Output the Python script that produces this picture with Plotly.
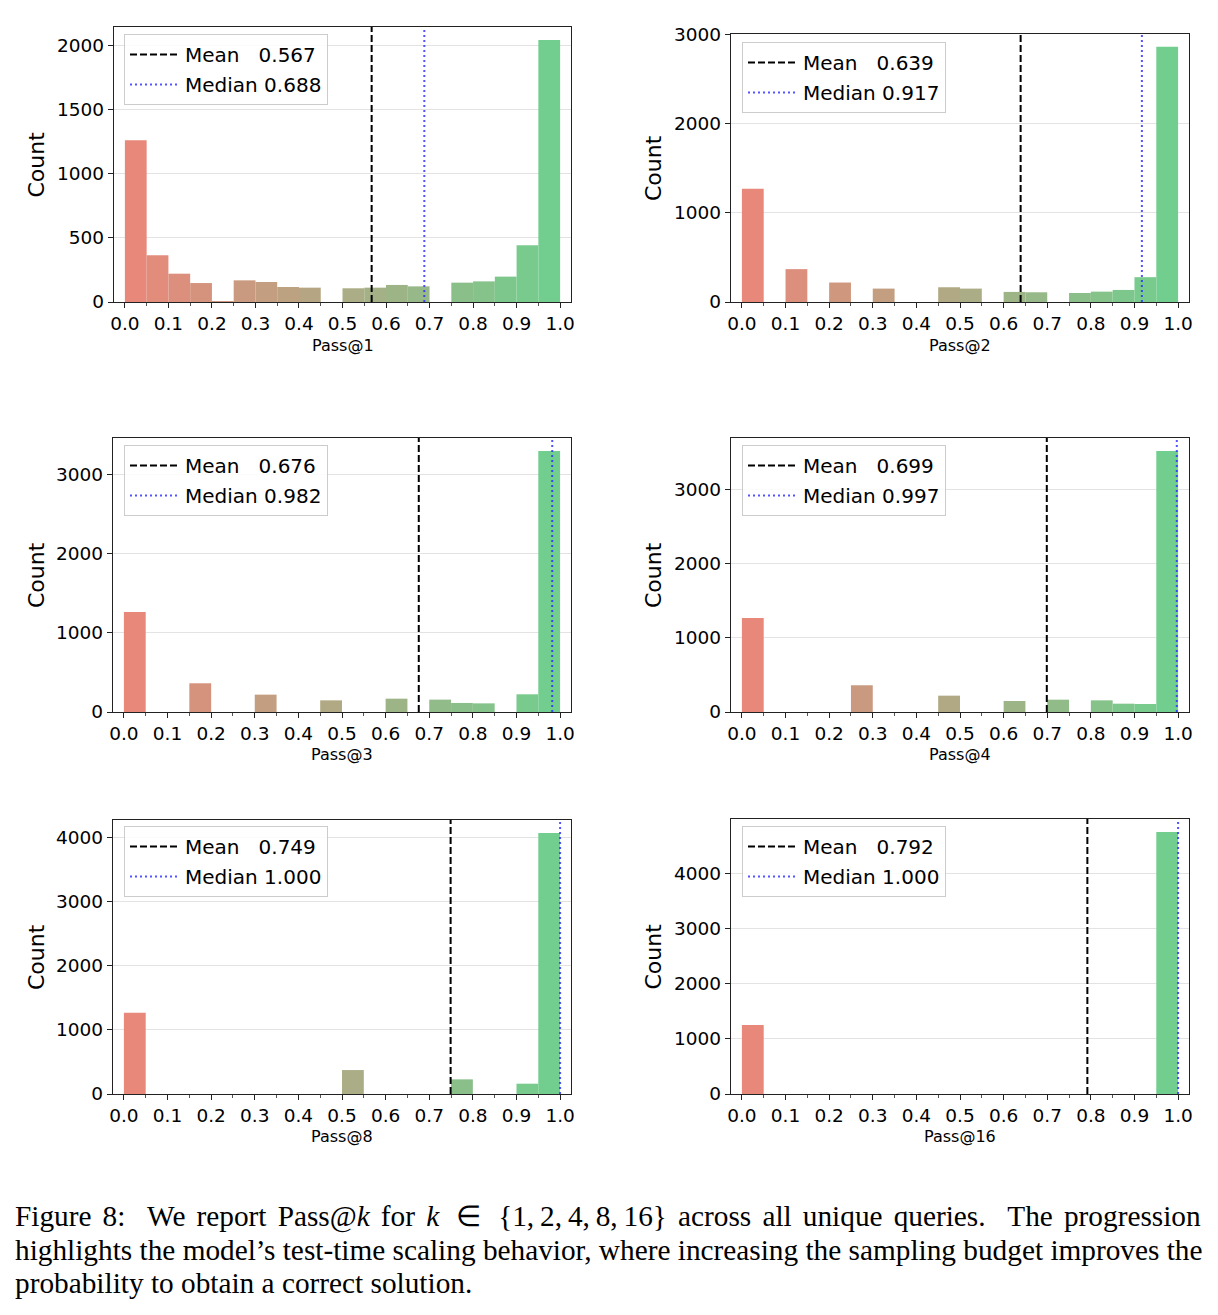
import plotly.graph_objects as go

# ---------------- data ----------------
bin_edges = [0.00, 0.05, 0.10, 0.15, 0.20, 0.25, 0.30, 0.35, 0.40, 0.45, 0.50,
             0.55, 0.60, 0.65, 0.70, 0.75, 0.80, 0.85, 0.90, 0.95, 1.00]

panel_names = ["Pass@1", "Pass@2", "Pass@3", "Pass@4", "Pass@8", "Pass@16"]

pass1 = [1263, 365, 221, 148, 3, 169, 156, 117, 112, 0, 107, 112, 133, 122, 0, 151, 161, 198, 443, 2044]
pass2 = [1268, 0, 368, 0, 218, 0, 150, 0, 0, 165, 150, 0, 113, 109, 0, 101, 116, 135, 278, 2858]
pass3 = [1262, 0, 0, 362, 0, 0, 219, 0, 0, 147, 0, 0, 168, 0, 156, 114, 109, 0, 223, 3290]
pass4 = [1264, 0, 0, 0, 0, 360, 0, 0, 0, 220, 0, 0, 148, 0, 166, 0, 157, 112, 108, 3513]
pass8 = [1268, 0, 0, 0, 0, 0, 0, 0, 0, 0, 374, 0, 0, 0, 0, 229, 0, 0, 161, 4075]
pass16 = [1251, 0, 0, 0, 0, 0, 0, 0, 0, 0, 0, 0, 0, 0, 0, 0, 0, 0, 0, 4749]

means = [0.567, 0.639, 0.676, 0.699, 0.749, 0.792]
medians = [0.688, 0.917, 0.982, 0.997, 1.000, 1.000]
y_dticks = [500, 1000, 1000, 1000, 1000, 1000]

x_tick_vals = [0.0, 0.1, 0.2, 0.3, 0.4, 0.5, 0.6, 0.7, 0.8, 0.9, 1.0]
x_tick_text = ["0.0", "0.1", "0.2", "0.3", "0.4", "0.5", "0.6", "0.7", "0.8", "0.9", "1.0"]

caption_lines = [
    "Figure 8:  We report Pass@<i>k</i> for <i>k</i>\u2009 \u2208 \u2009{1,\u20092,\u20094,\u20098,\u200916} across all unique queries.  The progression",
    "highlights the model\u2019s test-time scaling behavior, where increasing the sampling budget improves the",
    "probability to obtain a correct solution.",
]
caption_word_spacing = [3.8, 0.0, 0.0]

all_counts = [pass1, pass2, pass3, pass4, pass8, pass16]

# ---------------- layout geometry (pixels) ----------------
W, H = 1218, 1315
# (left, right, top, bottom) of each axes box in pixels
boxes = [
    (114, 571, 27, 302),
    (731, 1189, 34, 302),
    (113, 571, 438, 712),
    (731, 1189, 438, 712),
    (113, 571, 820, 1094),
    (731, 1189, 819, 1094),
]
legend_pos = [(124, 34), (742, 42), (124, 445), (742, 445), (124, 826), (742, 826)]
count_x = [36, 653, 36, 653, 36, 653]
xtitle_y = [345, 345, 754, 754, 1136, 1136]


def px(x):
    return x / W


def py(y):
    return 1 - y / H


red = (232, 136, 122)
green = (114, 206, 142)
n_bins = len(bin_edges) - 1
centers = [(bin_edges[i] + bin_edges[i + 1]) / 2 for i in range(n_bins)]
widths = [bin_edges[i + 1] - bin_edges[i] for i in range(n_bins)]
colors = []
for i in range(n_bins):
    t = i / (n_bins - 1)
    c = tuple(round(red[k] + (green[k] - red[k]) * t) for k in range(3))
    colors.append("rgb(%d,%d,%d)" % c)

fig = go.Figure()
layout = dict(
    width=W, height=H,
    margin=dict(l=0, r=0, t=0, b=0, autoexpand=False),
    paper_bgcolor="white", plot_bgcolor="white",
    showlegend=True,
    font=dict(family="DejaVu Sans", color="black"),
)
annotations = []

for i, counts in enumerate(all_counts):
    n = i + 1
    xa = "x" if n == 1 else "x%d" % n
    ya = "y" if n == 1 else "y%d" % n
    lg = "legend" if n == 1 else "legend%d" % n
    ytop = max(counts) * 1.05

    fig.add_trace(go.Bar(
        x=centers, y=counts, width=widths,
        marker=dict(color=colors, line=dict(width=0)),
        xaxis=xa, yaxis=ya, showlegend=False, hoverinfo="skip",
    ))
    fig.add_trace(go.Scatter(
        x=[means[i], means[i]], y=[0, ytop], mode="lines",
        line=dict(color="black", width=2, dash="7px,3px"),
        name="Mean\u00a0\u00a0\u00a0%.3f" % means[i],
        legendgroup="mean%d" % n,
        xaxis=xa, yaxis=ya, legend=lg,
    ))
    fig.add_trace(go.Scatter(
        x=[medians[i], medians[i]], y=[0, ytop], mode="lines",
        line=dict(color="rgba(40,40,255,0.8)", width=2, dash="2px,3px"),
        name="Median %.3f" % medians[i],
        legendgroup="median%d" % n,
        xaxis=xa, yaxis=ya, legend=lg,
    ))

    l, r, t, b = boxes[i]
    xkey = "xaxis" if n == 1 else "xaxis%d" % n
    ykey = "yaxis" if n == 1 else "yaxis%d" % n
    layout[xkey] = dict(
        domain=[px(l), px(r)], anchor=ya, range=[-0.025, 1.025], automargin=False,
        tickmode="array", tickvals=x_tick_vals, ticktext=x_tick_text,
        ticks="outside", ticklen=5, tickwidth=1.2, tickcolor="#222",
        minor=dict(ticks="outside", ticklen=3, dtick=0.05, tick0=0, tickcolor="#555", showgrid=False),
        showline=True, linecolor="#222", linewidth=1.3, mirror=True,
        showgrid=False, zeroline=False,
        tickfont=dict(family="DejaVu Sans", size=18.5, color="black"),
    )
    layout[ykey] = dict(
        domain=[py(b), py(t)], anchor=xa, range=[0, ytop], automargin=False,
        tickmode="linear", tick0=0, dtick=y_dticks[i],
        ticks="outside", ticklen=5, tickwidth=1.2, tickcolor="#222",
        showline=True, linecolor="#222", linewidth=1.3, mirror=True,
        showgrid=True, gridcolor="#e3e3e3", gridwidth=1, zeroline=False,
        tickfont=dict(family="DejaVu Sans", size=18.5, color="black"),
    )
    lx, ly = legend_pos[i]
    layout[lg] = dict(
        x=px(lx), y=py(ly), xanchor="left", yanchor="top",
        xref="paper", yref="paper",
        bgcolor="rgba(255,255,255,0.85)", bordercolor="#cccccc", borderwidth=1,
        font=dict(family="DejaVu Sans", size=20, color="black"),
        itemwidth=50, tracegroupgap=1,
    )
    annotations.append(dict(
        text="Count", x=px(count_x[i]), y=py((t + b) / 2), xref="paper", yref="paper",
        textangle=-90, showarrow=False, xanchor="center", yanchor="middle",
        font=dict(family="DejaVu Sans", size=22, color="black"),
    ))
    annotations.append(dict(
        text=panel_names[i], x=px((l + r) / 2), y=py(xtitle_y[i]), xref="paper", yref="paper",
        showarrow=False, xanchor="center", yanchor="middle",
        font=dict(family="DejaVu Sans", size=16, color="black"),
    ))

caption_y = [1216, 1250, 1283]
for k, line in enumerate(caption_lines):
    annotations.append(dict(
        text='<span style="word-spacing:%.1fpx">%s</span>' % (caption_word_spacing[k], line),
        x=px(13), y=py(caption_y[k]), xref="paper", yref="paper",
        showarrow=False, xanchor="left", yanchor="middle",
        font=dict(family="Liberation Serif", size=29.3, color="black"),
    ))

layout["annotations"] = annotations
fig.update_layout(**layout)
fig.write_html("out.html")
